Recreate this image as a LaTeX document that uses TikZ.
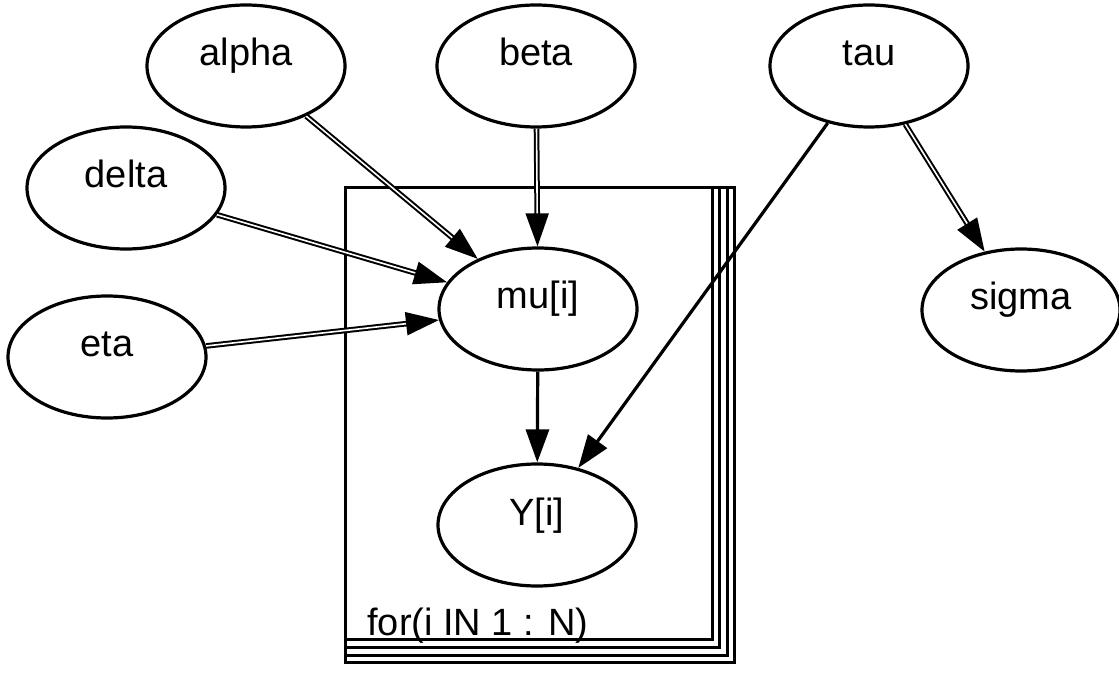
\documentclass[tikz,border=0pt]{standalone}
\usepackage{fontspec}
\setmainfont{Liberation Sans}
\usetikzlibrary{shapes.geometric,arrows.meta}
\newlength{\du}
\setlength{\du}{0.5pt}
\tikzset{
  bugsnode/.style={ellipse, draw=dialinecolor, fill=diafillcolor, line width=3.2\du,
    minimum width=198\du, minimum height=122\du, inner sep=0pt,
    text height=14pt, text depth=14pt, font=\fontsize{19}{23}\selectfont},
  logicedge/.style={draw=dialinecolor, line width=2\du, double=diafillcolor, double distance=1.6\du,
    -{Triangle[length=16.5pt,width=11.5pt]}},
  stochedge/.style={draw=dialinecolor, line width=3.2\du, -{Triangle[length=16.5pt,width=11.5pt]}},
  platebox/.style={draw=dialinecolor, line width=3\du}
}

\begin{document}
\begin{tikzpicture}[even odd rule]
\pgftransformxscale{1.000000}
\pgftransformyscale{-1.000000}
\definecolor{dialinecolor}{rgb}{0.000000, 0.000000, 0.000000}
\definecolor{diafillcolor}{rgb}{1.000000, 1.000000, 1.000000}
\pgfsetmiterjoin
\useasboundingbox (0\du,0\du) rectangle (1119\du,673\du);
% plate, drawn as stacked sheets
\foreach \r/\b in {712/639,719/647,727/655,734/662}
  \draw[platebox] (345\du,188\du) rectangle (\r\du,\b\du);
\node[anchor=base west, inner sep=0pt, font=\fontsize{19}{23}\selectfont] (platelabel) at (367\du,635\du) {for(i IN 1 : N)};
% variables
\node[bugsnode] (alpha) at (246\du,66\du) {alpha};
\node[bugsnode] (beta) at (536\du,66\du) {beta};
\node[bugsnode] (tau) at (869\du,66\du) {tau};
\node[bugsnode] (delta) at (126\du,188\du) {delta};
\node[bugsnode] (eta) at (107\du,357\du) {eta};
\node[bugsnode] (mu) at (538\du,309\du) {mu[i]};
\node[bugsnode] (sigma) at (1021\du,310\du) {sigma};
\node[bugsnode] (Y) at (537\du,525\du) {Y[i]};
% links
\draw[logicedge] (alpha) -- (mu);
\draw[logicedge] (beta) -- (mu);
\draw[logicedge] (delta) -- (mu);
\draw[logicedge] (eta) -- (mu);
\draw[logicedge] (tau) -- (sigma);
\draw[stochedge] (mu) -- (Y);
\draw[stochedge] (tau) -- (Y);
\end{tikzpicture}
\end{document}
